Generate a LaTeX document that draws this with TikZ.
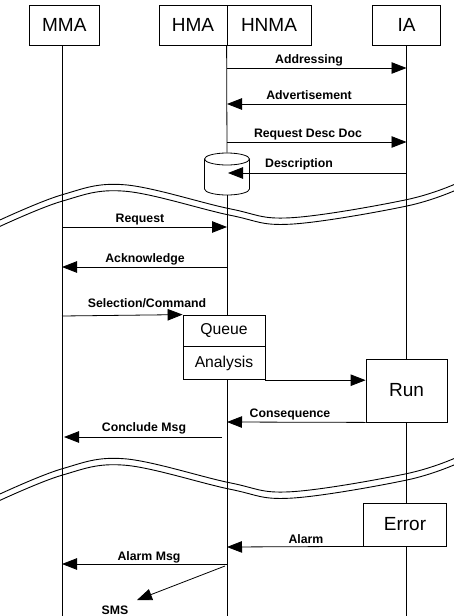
\documentclass[tikz,border=0pt]{standalone}
\usepackage{fontspec}
\setmainfont{Liberation Sans}
\usetikzlibrary{arrows.meta}

\begin{document}
\begin{tikzpicture}[x=1pt, y=-1pt, line width=0.8pt,
  box/.style={draw, inner sep=0pt, minimum height=40pt},
  big/.style={font=\fontsize{19}{22}\selectfont},
  mid/.style={font=\fontsize{15.7}{18}\selectfont},
  msg/.style={-{Triangle[length=15pt,width=11.5pt]}},
  lbl/.style={anchor=base, inner sep=0pt, font=\bfseries\fontsize{12.3}{14}\selectfont},
  wave/.style={line width=0.9pt}]

\useasboundingbox (0,0) rectangle (454,616);

% agents
\node[box, big, minimum width=70pt] (mma)  at (64.3,25) {MMA};
\node[box, big, minimum width=68pt] (hma)  at (193,25)  {HMA};
\node[box, big, minimum width=84pt] (hnma) at (269,25)  {HNMA};
\node[box, big, minimum width=68pt] (ia)   at (406.5,25) {IA};

% processing boxes
\node[minimum width=45pt, minimum height=42pt, inner sep=0pt] (store) at (227,174) {};
\node[box, mid, minimum width=82pt, minimum height=31pt] (queue) at (224,330.5) {Queue};
\node[box, mid, minimum width=82pt, minimum height=33pt, anchor=north] (analysis) at (queue.south) {Analysis};
\node[box, big, minimum width=81pt, minimum height=63pt] (run) at (406.5,390.5) {Run};
\node[box, big, minimum width=83pt, minimum height=43pt] (error) at (405,524.5) {Error};

% database cylinder
\draw (store.center) ++(0,-15) ellipse [x radius=22.5, y radius=6];
\draw (204.5,159) -- (204.5,189) arc[start angle=180, end angle=0, x radius=22.5, y radius=6] -- (249.5,159);

% lifeline ends
\coordinate (mBot) at (62,616);
\coordinate (hBot) at (227,616);
\coordinate (iBot) at (406.5,616);

% lifelines
\draw (mma.south -| mBot) -- (mBot);
\draw (hnma.south west) -- (store.north);
\draw (store.south) -- (store.south |- queue.north);
\draw (analysis.south -| hBot) -- (hBot);
\draw (ia.south) -- (run.north);
\draw (run.south) -- (run.south |- error.north);
\draw (error.south -| iBot) -- (iBot);

% two break lines
\foreach \s in {0,274}
  \foreach \dy in {-3.2,3.2}
    \draw[wave, shift={(0,\s+\dy)}] plot[smooth, tension=0.6] coordinates
      {(-4,225) (62,198) (125,188) (230,212) (290,221) (406,203) (458,186)};

% message end points
\coordinate (h1) at (227,68);   \coordinate (i1) at (406.5,68);
\coordinate (h2) at (227,104);  \coordinate (i2) at (406.5,104);
\coordinate (h3) at (227,142);  \coordinate (i3) at (406.5,142);
\coordinate (h4) at (228,173);  \coordinate (i4) at (406.5,173);
\coordinate (m5) at (62,227);   \coordinate (h5) at (227,227);
\coordinate (m6) at (62,267);   \coordinate (h6) at (227,267);
\coordinate (m7) at (62,316);
\coordinate (h9) at (227,422);
\coordinate (m10) at (64,437);  \coordinate (h10) at (222,437);
\coordinate (h11) at (227,547);
\coordinate (m12) at (62,564);  \coordinate (h12) at (227,564);
\coordinate (h13) at (225,566); \coordinate (sms) at (137,600);

% messages
\draw[msg] (h1) -- (i1);
\draw[msg] (i2) -- (h2);
\draw[msg] (h3) -- (i3);
\draw[msg] (i4) -- (h4);
\draw[msg] (m5) -- (h5);
\draw[msg] (h6) -- (m6);
\draw[msg] (m7) -- (queue.north west);
\draw[msg] (analysis.south east) -- (run.west |- analysis.south east);
\draw[msg] (run.south west) -- (h9);
\draw[msg] (h10) -- (m10);
\draw[msg] (error.south west) -- (h11);
\draw[msg] (h12) -- (m12);
\draw[msg] (h13) -- (sms);

% message labels
\node[lbl] (tAddr) at (309,63)  {Addressing};
\node[lbl] (tAdv)  at (309,99)  {Advertisement};
\node[lbl] (tReq)  at (308,137) {Request Desc Doc};
\node[lbl] (tDesc) at (299,167) {Description};
\node[lbl] (tR)    at (140,222) {Request};
\node[lbl] (tAck)  at (145,262) {Acknowledge};
\node[lbl] (tSel)  at (147,307) {Selection/Command};
\node[lbl] (tCon)  at (290,417) {Consequence};
\node[lbl] (tClo)  at (144,431) {Conclude Msg};
\node[lbl] (tAl)   at (306,543) {Alarm};
\node[lbl] (tAlM)  at (149,560) {Alarm Msg};
\node[lbl] (tSMS)  at (115,614) {SMS};
\end{tikzpicture}
\end{document}
